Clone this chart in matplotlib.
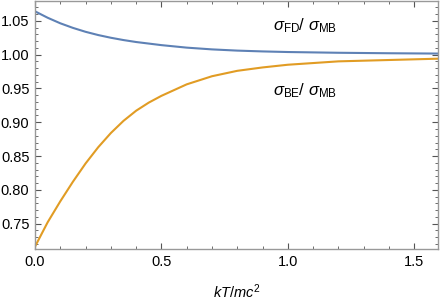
import matplotlib.pyplot as plt
from matplotlib.ticker import MultipleLocator

# ---- data ----
x_fd = [0.0, 0.05, 0.1, 0.15, 0.2, 0.25, 0.3, 0.35, 0.4, 0.5, 0.6, 0.7, 0.8, 0.9, 1.0,
        1.2, 1.4, 1.6]
y_fd = [1.064, 1.0545, 1.0463, 1.0395, 1.0337, 1.0289, 1.0249, 1.0215, 1.0186, 1.014,
        1.0103, 1.0077, 1.0059, 1.0047, 1.0038, 1.0027, 1.002, 1.0015]

x_be = [0.0, 0.05, 0.1, 0.15, 0.2, 0.25, 0.3, 0.35, 0.4, 0.45, 0.5, 0.6, 0.7, 0.8, 0.9,
        1.0, 1.2, 1.4, 1.6]
y_be = [0.716, 0.752, 0.783, 0.812, 0.839, 0.863, 0.884, 0.902, 0.917, 0.929, 0.939,
        0.956, 0.968, 0.976, 0.981, 0.985, 0.990, 0.992, 0.994]

blue = "#5E81B5"
orange = "#E19C24"
frame = "#999999"

plt.rcParams["font.family"] = ["Liberation Sans", "DejaVu Sans"]
plt.rcParams["mathtext.fontset"] = "custom"
plt.rcParams["mathtext.rm"] = "Liberation Sans"
plt.rcParams["mathtext.it"] = "Liberation Sans:italic"

fig = plt.figure(figsize=(4.41, 3.01), dpi=100)
ax = fig.add_axes([35 / 441, 52 / 301, 403 / 441, 248.5 / 301])

ax.plot(x_fd, y_fd, color=blue, lw=1.5)
ax.plot(x_be, y_be, color=orange, lw=1.5)

ax.set_xlim(0, 1.594)
ax.set_ylim(0.7125, 1.08)

ax.xaxis.set_major_locator(MultipleLocator(0.5))
ax.xaxis.set_minor_locator(MultipleLocator(0.1))
ax.yaxis.set_major_locator(MultipleLocator(0.05))
ax.yaxis.set_minor_locator(MultipleLocator(0.01))
ax.xaxis.set_major_formatter(plt.FormatStrFormatter("%.1f"))
ax.yaxis.set_major_formatter(plt.FormatStrFormatter("%.2f"))

for s in ax.spines.values():
    s.set_color(frame)
    s.set_linewidth(1.0)
ax.tick_params(which="both", direction="in", top=True, right=True,
               color="#555555", labelsize=10.5, pad=4)
ax.tick_params(which="major", length=4.5, width=0.8)
ax.tick_params(which="minor", length=2.5, width=0.6)

ax.text(1.07, 1.043, r"$\mathit{\sigma}_{\rm FD}$/ $\mathit{\sigma}_{\rm MB}$",
        fontsize=12, ha="center", va="center")
ax.text(1.07, 0.947, r"$\mathit{\sigma}_{\rm BE}$/ $\mathit{\sigma}_{\rm MB}$",
        fontsize=12, ha="center", va="center")

ax.set_xlabel(r"$kT/mc^2$", fontsize=10.5, labelpad=10)

fig.savefig("out.png", dpi=100)
